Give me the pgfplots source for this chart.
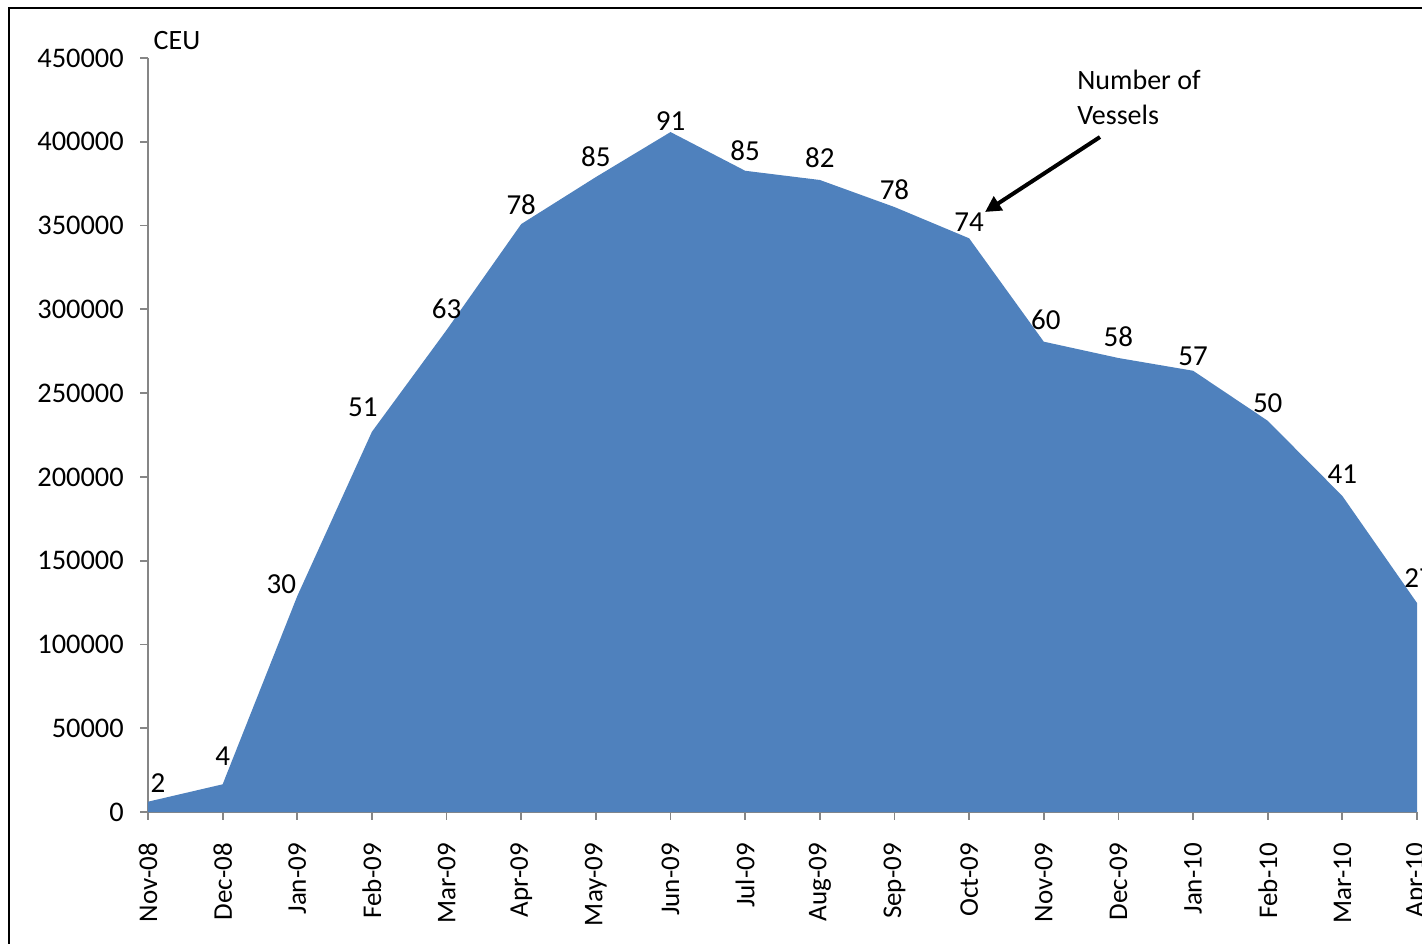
\documentclass[border=0pt]{standalone}
\usepackage{pgfplots}
\pgfplotsset{compat=1.18}
\usepackage{pgfplotstable}
\usepackage{fontspec}
\setmainfont{Carlito}
\usetikzlibrary{arrows.meta}
\definecolor{areablue}{RGB}{79,129,189}
\definecolor{axgray}{RGB}{134,134,134}

\pgfplotstableread{
x y lab dx dy
0 6150 2 5 9.5
1 16530 4 0 14
2 128900 30 -8 6
3 226950 51 -4.5 12
4 287650 63 0 10.5
5 350900 78 0 9.5
6 378950 85 0 10
7 405800 91 0 5.5
8 382700 85 0 10
9 377200 82 0 11
10 361050 78 0 8.5
11 342400 74 0 8
12 280700 60 1 11
13 270950 58 0 10.5
14 263350 57 0 7
15 233500 50 0 9
16 188600 41 0 11
17 124750 27 1 12.5
}\datatable

\begin{document}
\fontsize{14}{17.5}\selectfont
\begin{tikzpicture}
\begin{axis}[
  at={(0,0)}, anchor=south west,
  scale only axis, width=634.5pt, height=377pt,
  xmin=0, xmax=17, ymin=0, ymax=450000,
  axis x line*=bottom, axis y line*=left,
  axis line style={axgray, line width=0.9pt},
  xtick={0,...,17},
  xticklabels={Nov-08,Dec-08,Jan-09,Feb-09,Mar-09,Apr-09,May-09,Jun-09,Jul-09,Aug-09,Sep-09,Oct-09,Nov-09,Dec-09,Jan-10,Feb-10,Mar-10,Apr-10},
  ytick={0,50000,...,450000},
  tick align=outside, major tick length=3.75pt,
  tick style={axgray, line width=0.9pt},
  x tick label style={rotate=90, anchor=east, font=\fontsize{13.5}{16}\selectfont},
  y tick label style={font=\fontsize{14.2}{17}\selectfont},
  xticklabel shift=7pt,
  yticklabel shift=3.5pt,
  scaled y ticks=false,
  yticklabel style={/pgf/number format/fixed, /pgf/number format/precision=0, /pgf/number format/1000 sep={}, /pgf/number format/assume math mode=true},
  clip=false,
]
\addplot[fill=areablue, draw=none,
  nodes near coords, point meta=explicit symbolic,
  visualization depends on={\thisrow{dx} \as \dx},
  visualization depends on={\thisrow{dy} \as \dy},
  every node near coord/.append style={anchor=center, xshift=\dx pt, yshift=\dy pt, text=black, font=\fontsize{14.5}{17}\selectfont}
] table[x=x, y=y, meta=lab] {\datatable} \closedcycle;
\node[anchor=center, font=\fontsize{14}{17}\selectfont] at (axis cs:0.388,460730) {CEU};
\node[align=left, anchor=west, inner sep=0pt, font=\fontsize{14}{17.5}\selectfont] at (axis cs:12.445,426430) {Number of\\Vessels};
\draw[-{Triangle[length=8pt,width=8pt]}, line width=2pt] (axis cs:12.753,402840) -- (axis cs:11.213,358090);
\end{axis}
\draw[line width=0.85pt] (-69.5pt,-120pt) -- (-69.5pt,402pt) -- (720pt,402pt);
\pgfresetboundingbox
\useasboundingbox (-74pt,-65.5pt) rectangle (637pt,406pt);
\end{tikzpicture}
\end{document}
